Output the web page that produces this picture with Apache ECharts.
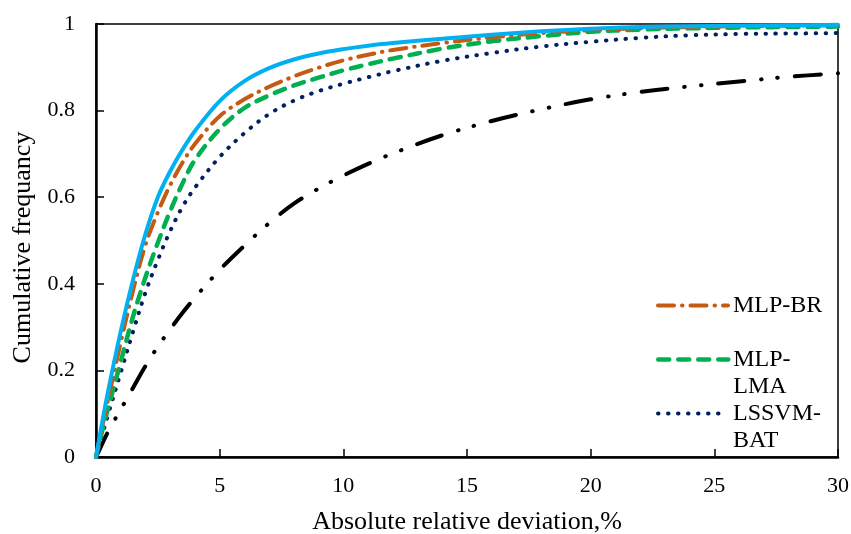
<!DOCTYPE html>
<html><head><meta charset="utf-8">
<script src="https://cdn.jsdelivr.net/npm/echarts@6/dist/echarts.min.js"></script>
<style>html,body{margin:0;padding:0;background:#fff}#c{width:851px;height:534px}</style>
</head><body><div id="c"></div>
<script>
var xs = [0,0.25,0.5,1,1.5,2,2.5,3,3.5,4,5,6,7,8,9,10,11,12,14,16,18,20,22,24,26,28,30];
var cyanY   = [0,0.08,0.155,0.29,0.41,0.515,0.6,0.66,0.71,0.753,0.822,0.868,0.898,0.918,0.932,0.942,0.95,0.956,0.966,0.975,0.983,0.989,0.993,0.995,0.996,0.997,0.998];
var mlpBR   = [0,0.07,0.135,0.265,0.385,0.49,0.565,0.628,0.68,0.723,0.787,0.826,0.855,0.879,0.899,0.916,0.929,0.94,0.956,0.969,0.979,0.986,0.99,0.993,0.995,0.996,0.997];
var mlpLMA  = [0,0.06,0.115,0.22,0.325,0.415,0.495,0.568,0.632,0.686,0.757,0.806,0.835,0.858,0.876,0.893,0.907,0.92,0.943,0.96,0.972,0.982,0.987,0.99,0.992,0.993,0.994];
var lssvmBAT= [0,0.05,0.1,0.195,0.29,0.38,0.455,0.522,0.578,0.622,0.693,0.748,0.792,0.823,0.845,0.862,0.877,0.891,0.915,0.933,0.948,0.959,0.968,0.974,0.977,0.978,0.979];
var blackY  = [0,0.03,0.06,0.11,0.16,0.21,0.255,0.295,0.333,0.368,0.432,0.488,0.54,0.585,0.62,0.65,0.677,0.701,0.743,0.776,0.803,0.826,0.843,0.856,0.867,0.878,0.886];
var xTitle = 'Absolute relative deviation,%';
var yTitle = 'Cumulative frequancy';

function pairs(ys){ return xs.map(function(x,i){ return [x, ys[i]]; }); }
var FONT = '"Liberation Serif","Times New Roman",serif';
var styles = {
  'Black':     {color:'#000000', width:4,   dash:[26,17,0.5,16,0.5,17]},
  'LSSVM-BAT': {color:'#002060', width:4,   dash:[0.5,9.5]},
  'MLP-LMA':   {color:'#00b050', width:4.5, dash:[11,9]},
  'MLP-BR':    {color:'#c55a11', width:4,   dash:[16,8,0.5,8]},
  'Cyan':      {color:'#00b0f0', width:4,   dash:'solid'}
};
function ser(name, ys, z){
  var s = styles[name];
  return {name:name, type:'line', data:pairs(ys), symbol:'none', smooth:0.35, z:z,
    itemStyle:{color:s.color},
    lineStyle:{color:s.color, width:s.width, type:s.dash, cap:'round', join:'round'}};
}
function leg(name, top, label){
  var s = styles[name];
  return {orient:'vertical', left:656, top:top, itemWidth:70, itemHeight:20, itemGap:0, padding:0,
    data:[name], formatter:function(){ return label; },
    itemStyle:{opacity:0},
    lineStyle:{color:s.color, width:s.width, type:s.dash, cap:'round'},
    textStyle:{fontFamily:FONT, fontSize:24, color:'#000', lineHeight:27}};
}
var chart = echarts.init(document.getElementById('c'), null, {renderer:'canvas'});
chart.setOption({
  animation:false,
  backgroundColor:'#fff',
  grid:{left:96, right:13, top:24, bottom:77, outerBoundsMode:'none', containLabel:false,
    show:true, borderColor:'#000', borderWidth:1.5},
  xAxis:{type:'value', min:0, max:30, interval:5,
    name:xTitle, nameLocation:'middle', nameGap:52,
    nameTextStyle:{fontFamily:FONT, fontSize:26, color:'#000'},
    axisLine:{show:true, onZero:false, lineStyle:{color:'#000', width:2.5}},
    axisTick:{show:true, inside:true, length:8, lineStyle:{color:'#000', width:1.5}},
    axisLabel:{fontFamily:FONT, fontSize:22, color:'#000', margin:18},
    splitLine:{show:false}},
  yAxis:{type:'value', min:0, max:1, interval:0.2,
    name:yTitle, nameLocation:'middle', nameGap:58,
    nameTextStyle:{fontFamily:FONT, fontSize:26, color:'#000', padding:[0,14,0,0]},
    axisLine:{show:true, onZero:false, lineStyle:{color:'#000', width:2.5}},
    axisTick:{show:true, inside:true, length:8, lineStyle:{color:'#000', width:1.5}},
    axisLabel:{fontFamily:FONT, fontSize:22, color:'#000', margin:21},
    splitLine:{show:false}},
  legend:[
    leg('MLP-BR', 292, 'MLP-BR'),
    leg('MLP-LMA', 319, ' \nMLP-\nLMA'),
    leg('LSSVM-BAT', 373, ' \nLSSVM-\nBAT')
  ],
  series:[
    ser('Black', blackY, 2),
    ser('LSSVM-BAT', lssvmBAT, 3),
    ser('MLP-LMA', mlpLMA, 4),
    ser('MLP-BR', mlpBR, 5),
    ser('Cyan', cyanY, 6)
  ]
});
</script></body></html>
